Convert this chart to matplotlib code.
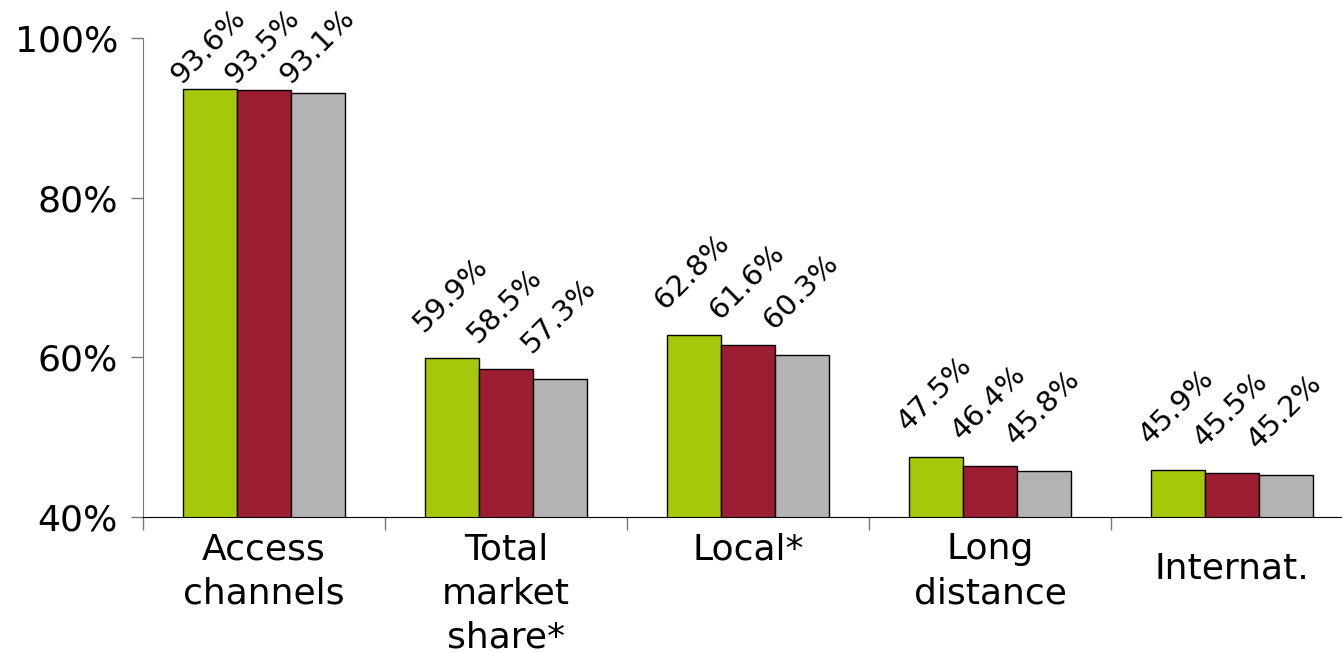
import numpy as np
import matplotlib
matplotlib.use("Agg")
import matplotlib.pyplot as plt

# market share by segment, three periods
categories = ["Access\nchannels", "Total\nmarket\nshare*", "Local*", "Long\ndistance", "Internat."]
share_a = [93.6, 59.9, 62.8, 47.5, 45.9]
share_b = [93.5, 58.5, 61.6, 46.4, 45.5]
share_c = [93.1, 57.3, 60.3, 45.8, 45.2]
yticks = [40, 60, 80, 100]

colors = ["#A6C80A", "#9C1E32", "#B3B3B3"]
series = [share_a, share_b, share_c]

plt.rcParams['font.family'] = ['DejaVu Sans']

fig = plt.figure(figsize=(13.42, 6.53), dpi=100)
ax = fig.add_axes([143 / 1342, 136 / 653, 1210 / 1342, 479 / 653])

x = np.arange(len(categories)) + 0.5
width = 0.224

for i, (vals, col) in enumerate(zip(series, colors)):
    pos = x + (i - 1) * width
    ax.bar(pos, vals, width=width, bottom=0, color=col, edgecolor="black",
           linewidth=1.0, zorder=2)
    for p, v in zip(pos, vals):
        # labels near the top get pushed down so they stay inside the figure
        ax.annotate(f"{v:.1f}%", xy=(p - width / 2, min(v, 91.0)),
                    xytext=(-1, 18), textcoords="offset points",
                    rotation=45, rotation_mode="anchor",
                    ha="left", va="baseline", fontsize=21, clip_on=False)

ax.set_ylim(40, 100)
ax.set_xlim(0, len(categories))
ax.set_yticks(yticks)
ax.set_yticklabels([f"{t}%" for t in yticks], fontsize=26)
ax.tick_params(axis="y", direction="out", length=9, width=1, color="#777777", pad=9)

# category boundaries as tick marks, labels drawn separately
ax.set_xticks(np.arange(len(categories) + 1))
ax.set_xticklabels([])
ax.tick_params(axis="x", direction="out", length=9, width=1, color="#777777")

for i, lab in enumerate(categories):
    dy = -0.072 if lab == "Internat." else -0.032
    ax.text(x[i], dy, lab, transform=ax.get_xaxis_transform(), ha="center",
            va="top", fontsize=26, linespacing=1.38)

ax.spines["top"].set_visible(False)
ax.spines["right"].set_visible(False)
ax.spines["left"].set_color("#777777")
ax.spines["bottom"].set_color("black")

fig.savefig("out.png", dpi=100)
